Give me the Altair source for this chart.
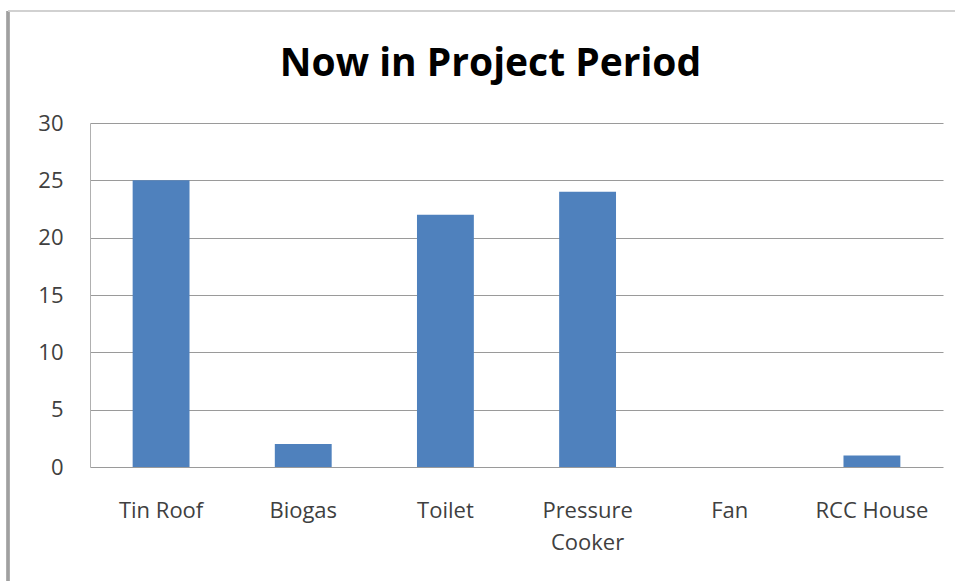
import altair as alt
import pandas as pd

categories = ["Tin Roof", "Biogas", "Toilet", "Pressure Cooker", "Fan", "RCC House"]
values = [25, 2, 22, 24, 0, 1]

df = pd.DataFrame({"item": categories, "count": values})

FONT = "Open Sans"

bars = alt.Chart(df).mark_bar(color="#4F81BD").encode(
    x=alt.X("item:N", sort=categories, title=None,
            scale=alt.Scale(paddingInner=0.6, paddingOuter=0.3),
            axis=alt.Axis(labelAngle=0, labelFont=FONT, labelFontSize=22,
                          labelColor="#404040", ticks=False, domain=False,
                          labelPadding=33, labelBaseline="top", labelLineHeight=32,
                          labelExpr="datum.label == 'Pressure Cooker' ? ['Pressure', 'Cooker'] : datum.label")),
    y=alt.Y("count:Q", title=None,
            scale=alt.Scale(domain=[0, 30]),
            axis=alt.Axis(values=[0, 5, 10, 15, 20, 25, 30], labelFont=FONT, labelFontSize=22,
                          labelColor="#404040", ticks=False, domain=True, domainColor="#b0b0b0",
                          labelPadding=27, gridColor="#9a9a9a", gridWidth=1.2)),
)

frame_left = alt.Chart(df).mark_rule(color="#a0a0a0", strokeWidth=2.5).encode(
    x=alt.value(-82), y=alt.value(-112), y2=alt.value(460)
)
frame_top = alt.Chart(df).mark_rule(color="#d0d0d0", strokeWidth=1.5).encode(
    x=alt.value(-82), x2=alt.value(865), y=alt.value(-112)
)

chart = alt.layer(frame_left, frame_top, bars).properties(
    width=853, height=344,
    autosize=alt.AutoSizeParams(type="none"),
    padding={"left": 90, "top": 123, "right": 12, "bottom": 114},
    background="white",
    title=alt.TitleParams("Now in Project Period", font=FONT, fontSize=39, fontWeight="bold",
                          color="#000000", anchor="middle", dx=-26, dy=78),
).configure_view(stroke=None)

chart.save("out.html", embed_options={"renderer": "svg", "actions": False})
